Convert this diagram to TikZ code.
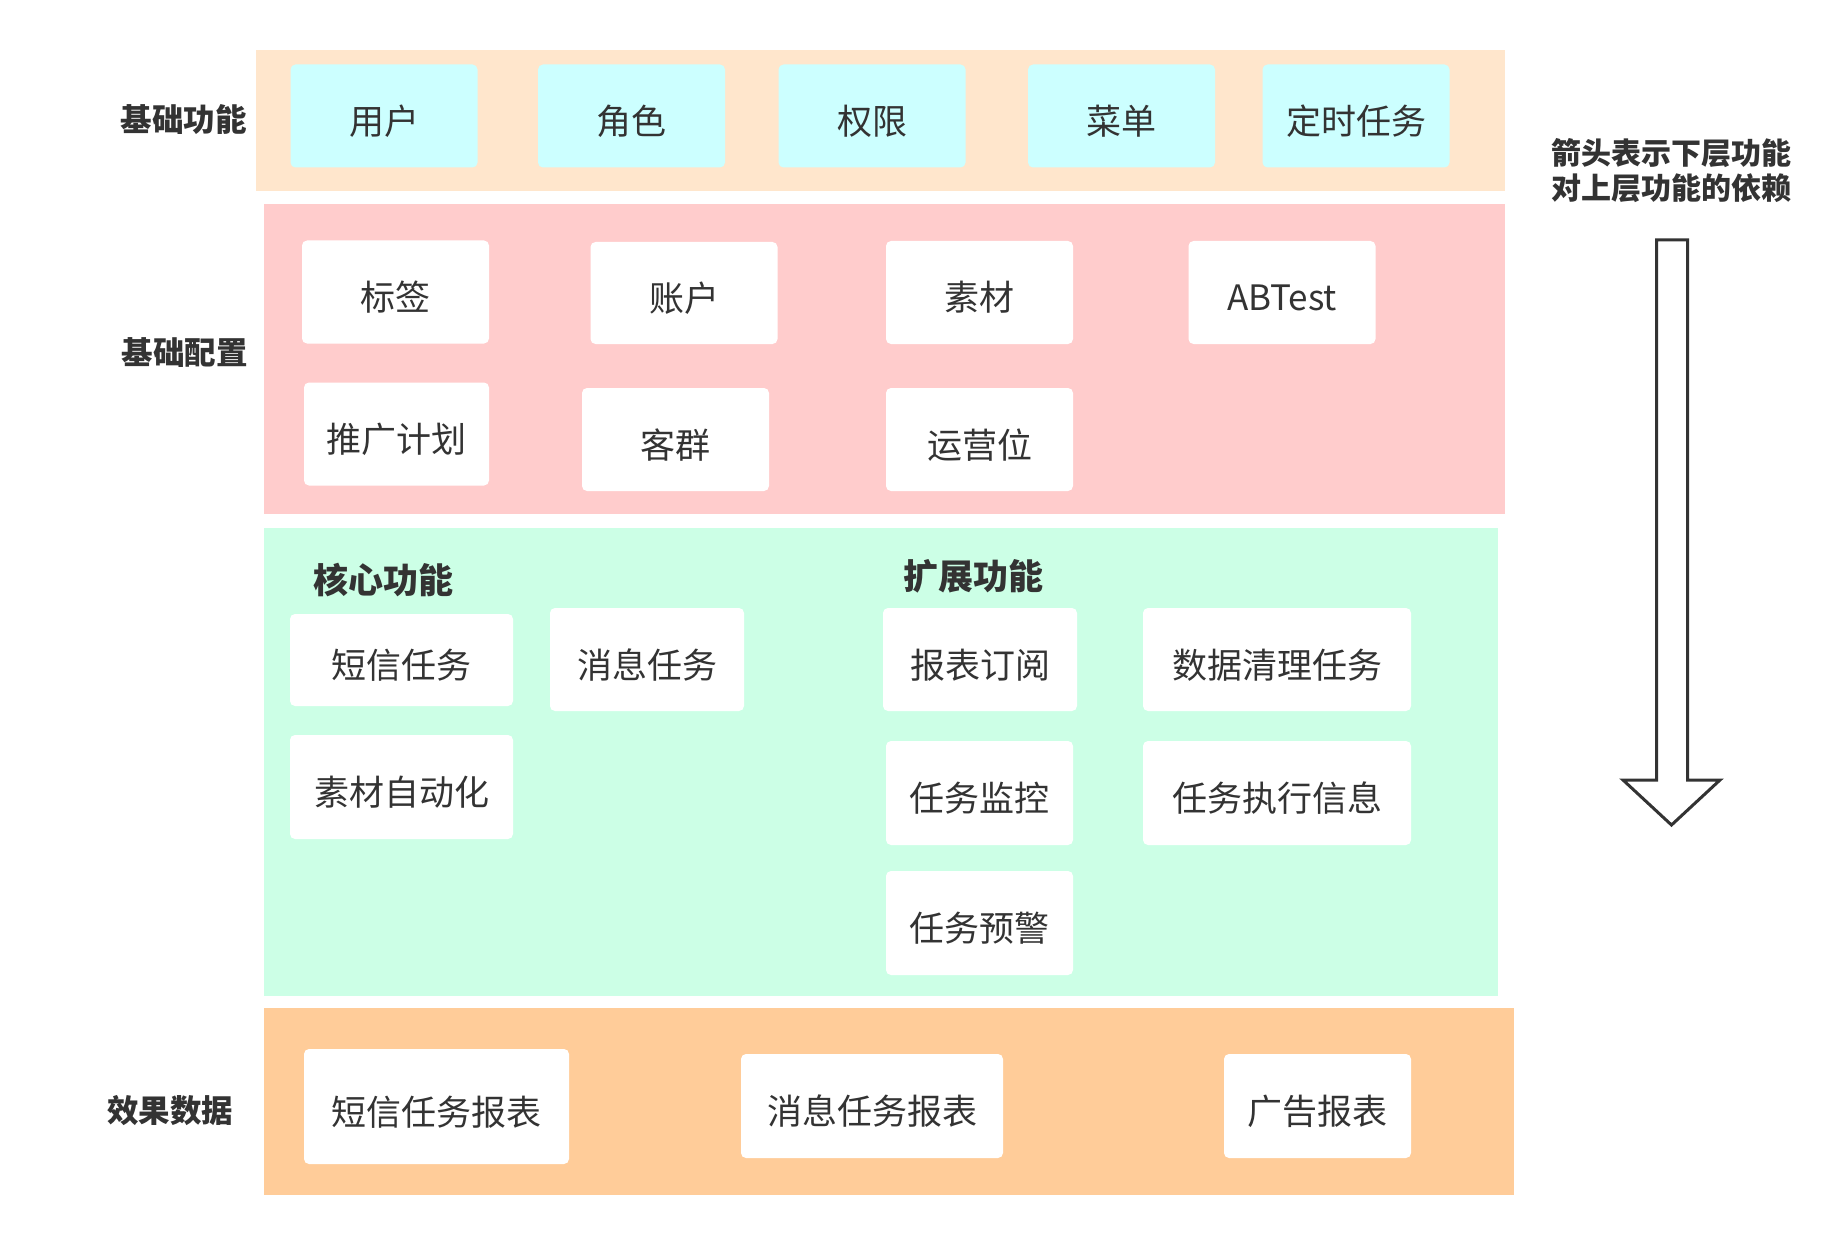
\documentclass[tikz,border=0pt]{standalone}
\usepackage{fontspec}
\setmainfont{Noto Sans CJK SC}
\usepackage{tikz}
\usetikzlibrary{calc}

\definecolor{txt}{HTML}{333333}
\definecolor{peach}{HTML}{FFE6CC}
\definecolor{aqua}{HTML}{CCFFFF}
\definecolor{rose}{HTML}{FFCCCC}
\definecolor{mint}{HTML}{CCFFE6}
\definecolor{apricot}{HTML}{FFCC99}

\begin{document}
\begin{tikzpicture}[x=0.5pt, y=-0.5pt,
    cell/.style={fill=white, rounded corners=2.5pt, inner sep=0pt,
        minimum width=93.5pt, minimum height=51.5pt, text=txt,
        text height=18.5pt, text depth=0pt,
        font=\fontsize{17.5}{20}\selectfont},
    aquacell/.style={cell, fill=aqua},
    layerlabel/.style={text=txt, inner sep=0pt, font=\fontsize{15.75}{18}\selectfont\bfseries},
    grouplabel/.style={text=txt, inner sep=0pt, font=\fontsize{17.5}{20}\selectfont\bfseries}]

    \useasboundingbox (0,0) rectangle (1842,1246);

    % layer bands
    \fill[peach]   (256,50)  rectangle (1505,191.5);
    \fill[rose]    (264,204) rectangle (1505,514);
    \fill[mint]    (264,528) rectangle (1498,996);
    \fill[apricot] (264,1008) rectangle (1514,1195);

    % layer labels
    \node[layerlabel] (basefunc) at (183.5,120) {基础功能};
    \node[layerlabel] (baseconf) at (184.5,353) {基础配置};
    \node[layerlabel] (effect)   at (170,1111)  {效果数据};

    % base functions
    \node[aquacell] (user)  at (384,116)    {用户};
    \node[aquacell] (role)  at (631.5,116)  {角色};
    \node[aquacell] (perm)  at (872,116)    {权限};
    \node[aquacell] (menu)  at (1121.5,116) {菜单};
    \node[aquacell] (cron)  at (1356,116)   {定时任务};

    % base config
    \node[cell] (tag)      at (395.5,292)   {标签};
    \node[cell, minimum height=51pt] (account) at (684,293) {账户};
    \node[cell] (material) at (979.5,292.5) {素材};
    \node[cell] (abtest)   at (1282,292.5)  {ABTest};
    \node[cell, minimum width=92.5pt] (plan) at (396.5,434) {推广计划};
    \node[cell] (crowd)    at (675.5,439.5) {客群};
    \node[cell] (slot)     at (979.5,439.5) {运营位};

    % core / extended functions
    \node[grouplabel] (core) at (383.5,580) {核心功能};
    \node[grouplabel] (ext)  at (973,576)   {扩展功能};

    \node[cell, minimum width=111.5pt, minimum height=46pt] (smstask) at (401.5,660) {短信任务};
    \node[cell, minimum width=97pt] (msgtask) at (647,659.5) {消息任务};
    \node[cell, minimum width=111.5pt, minimum height=52pt] (autoasset) at (401.5,787) {素材自动化};
    \node[cell, minimum width=97pt] (subscribe) at (980,659.5) {报表订阅};
    \node[cell, minimum width=134pt] (cleanup) at (1277,659.5) {数据清理任务};
    \node[cell, minimum height=52pt] (monitor) at (979.5,793) {任务监控};
    \node[cell, minimum width=134pt, minimum height=52pt] (execinfo) at (1277,793) {任务执行信息};
    \node[cell, minimum height=52pt] (alarm) at (979.5,923) {任务预警};

    % effect data
    \node[cell, minimum width=132.5pt, minimum height=57.5pt] (smsreport) at (436.5,1106.5) {短信任务报表};
    \node[cell, minimum width=131pt, minimum height=52pt] (msgreport) at (872,1106) {消息任务报表};
    \node[cell, minimum height=52pt] (adreport) at (1317.5,1106) {广告报表};

    % dependency note
    \node[text=txt, align=center, inner sep=0pt,
        font=\fontsize{15}{17.5}\selectfont\bfseries] (note) at (1671,171) {箭头表示下层功能\\对上层功能的依赖};

    % hollow arrow
    \coordinate (A) at (1656.5,240);
    \coordinate (B) at (1687.5,240);
    \coordinate (C) at (1687.5,780);
    \coordinate (D) at (1720,780);
    \coordinate (E) at (1671.5,825);
    \coordinate (F) at (1623,780);
    \coordinate (G) at (1656.5,780);
    \draw[txt, fill=white, line width=1.5pt, line join=miter]
        (A)--(B)--(C)--(D)--(E)--(F)--(G)--cycle;

\end{tikzpicture}
\end{document}
